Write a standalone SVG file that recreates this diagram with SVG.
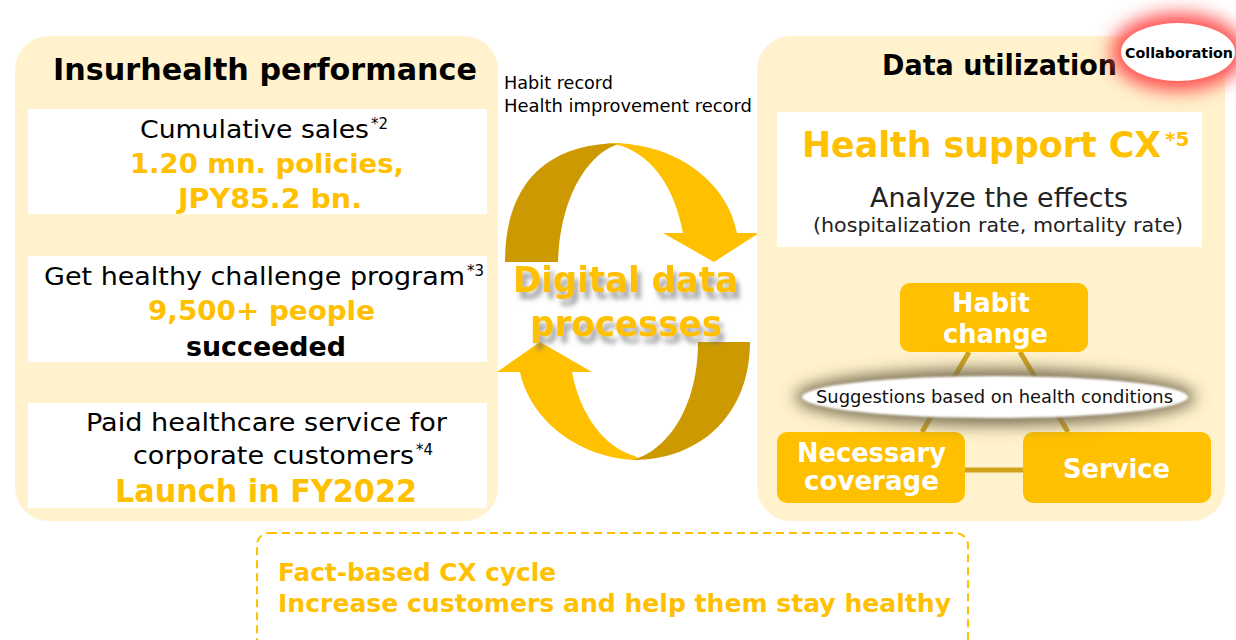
<svg xmlns="http://www.w3.org/2000/svg" width="1236" height="640" viewBox="0 0 1236 640">
<defs>
<style>
.t{font-family:"DejaVu Sans",Verdana,sans-serif;}
.b{font-weight:bold;}
.k{fill:#000;}
.o{fill:#FFC000;}
.w{fill:#fff;}
.panel{fill:#FFF2CC;}
.card{fill:#fff;}
.gbox{fill:#FFC000;}
.link{stroke:#D1A21A;stroke-width:5;fill:none;}
</style>
<filter id="redglow" x="-60%" y="-80%" width="220%" height="260%"><feGaussianBlur stdDeviation="9"/></filter>
<filter id="grayglow" x="-20%" y="-150%" width="140%" height="400%"><feGaussianBlur stdDeviation="8"/></filter>
<filter id="soft" x="-10%" y="-50%" width="120%" height="200%"><feGaussianBlur stdDeviation="1.2"/></filter>
<filter id="tshadow" x="-20%" y="-50%" width="140%" height="200%">
<feGaussianBlur in="SourceAlpha" stdDeviation="2.5" result="bl"/>
<feOffset in="bl" dx="4" dy="7" result="of"/>
<feFlood flood-color="#6e6e6e" flood-opacity="0.6"/>
<feComposite in2="of" operator="in" result="sh"/>
<feMerge><feMergeNode in="sh"/><feMergeNode in="SourceGraphic"/></feMerge>
</filter>
</defs>
<rect width="1236" height="640" fill="#fff"/>

<g id="left-panel">
<rect class="panel" x="15" y="36" width="483" height="485" rx="34"/>
<text class="t b k" x="53" y="80" font-size="30" textLength="424" lengthAdjust="spacingAndGlyphs">Insurhealth performance</text>
</g>

<g id="cumulative-sales">
<rect class="card" x="28" y="109" width="459" height="105"/>
<text class="t k" x="140" y="138" font-size="25"><tspan textLength="229" lengthAdjust="spacingAndGlyphs">Cumulative sales</tspan><tspan x="371" y="129" font-size="15">*2</tspan></text>
<text class="t b o" x="130" y="173" font-size="27" textLength="274" lengthAdjust="spacingAndGlyphs">1.20 mn. policies,</text>
<text class="t b o" x="178" y="208" font-size="27" textLength="184" lengthAdjust="spacingAndGlyphs">JPY85.2 bn.</text>
</g>

<g id="challenge-program">
<rect class="card" x="28" y="256" width="459" height="106"/>
<text class="t k" x="44" y="285" font-size="25"><tspan textLength="421" lengthAdjust="spacingAndGlyphs">Get healthy challenge program</tspan><tspan x="467" y="276" font-size="15">*3</tspan></text>
<text class="t b o" x="148" y="320" font-size="27" textLength="227" lengthAdjust="spacingAndGlyphs">9,500+ people</text>
<text class="t b k" x="186" y="356" font-size="27" textLength="160" lengthAdjust="spacingAndGlyphs">succeeded</text>
</g>

<g id="paid-healthcare">
<rect class="card" x="28" y="403" width="459" height="105"/>
<text class="t k" x="86" y="431" font-size="25" textLength="361" lengthAdjust="spacingAndGlyphs">Paid healthcare service for</text>
<text class="t k" x="133" y="464" font-size="25"><tspan textLength="281" lengthAdjust="spacingAndGlyphs">corporate customers</tspan><tspan x="416" y="455" font-size="15">*4</tspan></text>
<text class="t b o" x="115" y="502" font-size="32" textLength="302" lengthAdjust="spacingAndGlyphs">Launch in FY2022</text>
</g>

<g id="digital-cycle">
<text class="t k" x="504" y="89" font-size="17" textLength="109" lengthAdjust="spacingAndGlyphs">Habit record</text>
<text class="t k" x="504" y="112" font-size="17" textLength="248" lengthAdjust="spacingAndGlyphs">Health improvement record</text>
<path fill="#CC9A00" d="M505,262 C505,185 545,143 622,143 C590,150 560,195 558,262 Z"/>
<path fill="#FFC000" d="M610,143 C680,143 728,185 737,233 L759,233 L714,262 L663,233 L683,233 C675,190 655,158 622,146 Z"/>
<path fill="#FFC000" d="M640,460 C580,460 530,420 520,372 L497,372 L540,342 L592,372 L572,372 C580,415 605,448 635,456 Z"/>
<path fill="#CC9A00" d="M698,342 L750,342 C750,410 705,460 632,460 C665,452 698,410 698,342 Z"/>
<g filter="url(#tshadow)">
<text class="t b o" x="513" y="292" font-size="36" textLength="225" lengthAdjust="spacingAndGlyphs">Digital data</text>
<text class="t b o" x="530" y="336" font-size="36" textLength="192" lengthAdjust="spacingAndGlyphs">processes</text>
</g>
</g>

<g id="right-panel">
<rect class="panel" x="757" y="36" width="468" height="485" rx="34"/>
<text class="t b k" x="882" y="75" font-size="28" textLength="235" lengthAdjust="spacingAndGlyphs">Data utilization</text>
</g>

<g id="collaboration">
<ellipse cx="1178" cy="52" rx="67" ry="39" fill="#FF5050" filter="url(#redglow)"/>
<ellipse cx="1178" cy="52" rx="57" ry="29" fill="#fff"/>
<text class="t b k" x="1125" y="58" font-size="14" textLength="108" lengthAdjust="spacingAndGlyphs">Collaboration</text>
</g>

<g id="health-support">
<rect class="card" x="777" y="112" width="425" height="135"/>
<text class="t b o" x="802" y="157" font-size="35"><tspan textLength="359" lengthAdjust="spacingAndGlyphs">Health support CX</tspan><tspan x="1165" y="146" font-size="20">*5</tspan></text>
<text class="t" fill="#222" x="870" y="207" font-size="26" textLength="258" lengthAdjust="spacingAndGlyphs">Analyze the effects</text>
<text class="t" fill="#222" x="813" y="232" font-size="20" textLength="370" lengthAdjust="spacingAndGlyphs">(hospitalization rate, mortality rate)</text>
</g>

<g id="connectors">
<line class="link" x1="969" y1="352" x2="922" y2="432"/>
<line class="link" x1="1020" y1="352" x2="1068" y2="432"/>
<line class="link" x1="965" y1="470" x2="1023" y2="470"/>
</g>

<g id="habit-change">
<rect class="gbox" x="900" y="283" width="188" height="69" rx="10"/>
<text class="t b w" x="952" y="312" font-size="26" textLength="78" lengthAdjust="spacingAndGlyphs">Habit</text>
<text class="t b w" x="943" y="343" font-size="26" textLength="105" lengthAdjust="spacingAndGlyphs">change</text>
</g>

<g id="necessary-coverage">
<rect class="gbox" x="777" y="432" width="188" height="71" rx="10"/>
<text class="t b w" x="797" y="462" font-size="26" textLength="149" lengthAdjust="spacingAndGlyphs">Necessary</text>
<text class="t b w" x="804" y="490" font-size="26" textLength="135" lengthAdjust="spacingAndGlyphs">coverage</text>
</g>

<g id="service">
<rect class="gbox" x="1023" y="432" width="188" height="71" rx="10"/>
<text class="t b w" x="1063" y="478" font-size="26" textLength="107" lengthAdjust="spacingAndGlyphs">Service</text>
</g>

<g id="suggestions">
<ellipse cx="995" cy="397" rx="200" ry="28" fill="#766B50" filter="url(#grayglow)"/>
<ellipse cx="995" cy="397" rx="193" ry="21" fill="#fff" filter="url(#soft)"/>
<text class="t" fill="#111" x="816" y="403" font-size="17" textLength="357" lengthAdjust="spacingAndGlyphs">Suggestions based on health conditions</text>
</g>

<g id="fact-based-cycle">
<rect x="257" y="533" width="711" height="120" rx="12" fill="none" stroke="#FFC000" stroke-width="2" stroke-dasharray="8,5"/>
<text class="t b o" x="278" y="581" font-size="25" textLength="278" lengthAdjust="spacingAndGlyphs">Fact-based CX cycle</text>
<text class="t b o" x="278" y="612" font-size="25" textLength="673" lengthAdjust="spacingAndGlyphs">Increase customers and help them stay healthy</text>
</g>
</svg>
